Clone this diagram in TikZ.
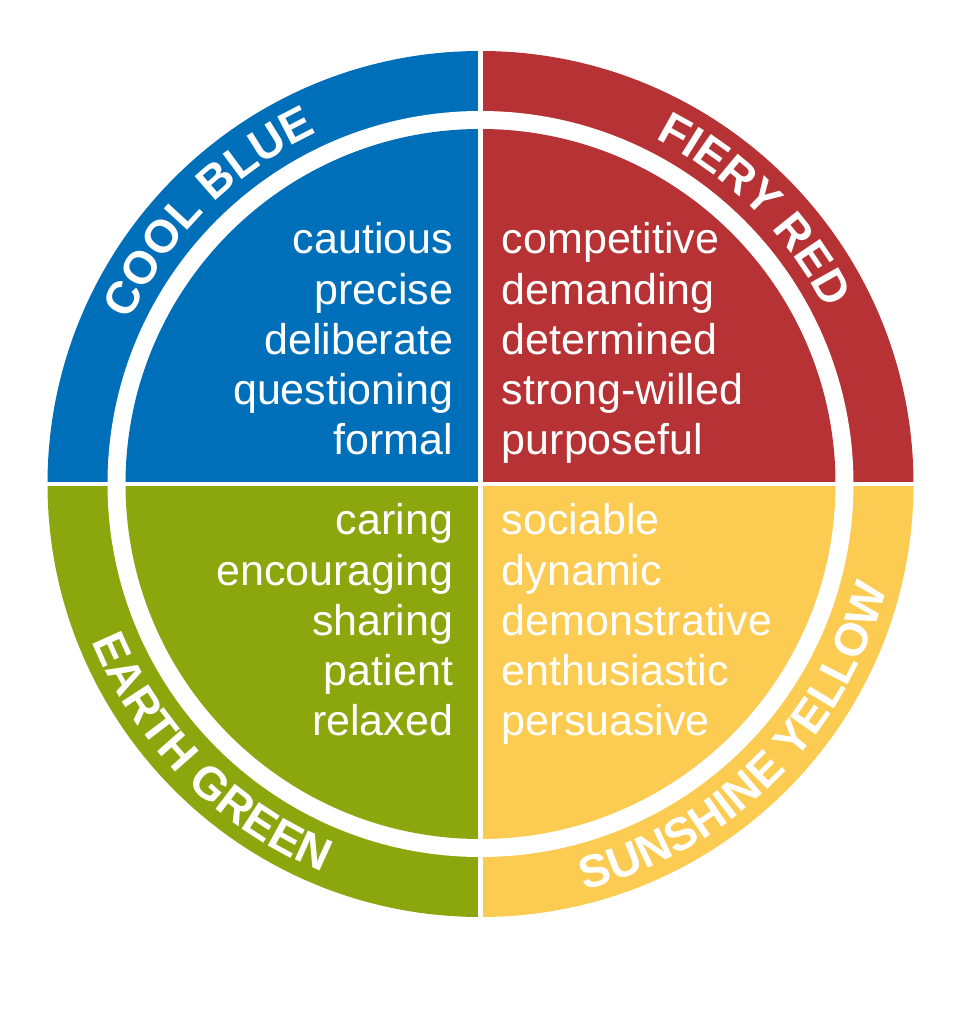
\documentclass[tikz,border=0pt]{standalone}
\usepackage{fontspec}
\setmainfont{Liberation Sans}
\usetikzlibrary{decorations.text}
\definecolor{cblue}{RGB}{0,111,185}
\definecolor{cred}{RGB}{183,50,52}
\definecolor{cgreen}{RGB}{140,166,13}
\definecolor{cyellow}{RGB}{252,203,82}
\newcommand\ringfont{\fontsize{46}{46}\selectfont\bfseries\color{white}}
\tikzset{
  word/.style={text=white, font=\fontsize{43}{50}\selectfont, inner sep=0pt},
  wordL/.style={word, anchor=base east},
  wordR/.style={word, anchor=base west},
  ringtext/.style={decorate, decoration={text along path, text align=center, text={#1}}}
}
\begin{document}
\begin{tikzpicture}[x=1pt,y=1pt]
\useasboundingbox (-480.5,-540) rectangle (482.5,484);
% outer ring quadrants
\fill[cblue]   (0,0) -- (180:433) arc[start angle=180,end angle=90,radius=433] -- cycle;
\fill[cred]    (0,0) -- (90:433) arc[start angle=90,end angle=0,radius=433] -- cycle;
\fill[cyellow] (0,0) -- (0:433) arc[start angle=0,end angle=-90,radius=433] -- cycle;
\fill[cgreen]  (0,0) -- (270:433) arc[start angle=270,end angle=180,radius=433] -- cycle;
\fill[white] (0,0) circle[radius=373];
% inner quadrants
\fill[cblue]   (0,0) -- (180:355) arc[start angle=180,end angle=90,radius=355] -- cycle;
\fill[cred]    (0,0) -- (90:355) arc[start angle=90,end angle=0,radius=355] -- cycle;
\fill[cyellow] (0,0) -- (0:355) arc[start angle=0,end angle=-90,radius=355] -- cycle;
\fill[cgreen]  (0,0) -- (270:355) arc[start angle=270,end angle=180,radius=355] -- cycle;
% white cross
\draw[white, line width=4.5] (-440,0) -- (440,0);
\draw[white, line width=4.5] (0,-440) -- (0,440);
% ring labels
\path[ringtext={|\ringfont|COOL BLUE}] (180:387) arc[start angle=180,end angle=90,radius=387];
\path[ringtext={|\ringfont|FIERY RED}] (90:387) arc[start angle=90,end angle=0,radius=387];
\path[ringtext={|\ringfont|EARTH GREEN}] (180:419) arc[start angle=180,end angle=270,radius=419];
\path[ringtext={|\ringfont|SUNSHINE YELLOW}] (270:419) arc[start angle=270,end angle=360,radius=419];
% words
\node[wordL] (b1) at (-27.2,230) {cautious};
\node[wordL] (b2) at (-27.2,179.8) {precise};
\node[wordL] (b3) at (-27.2,129.6) {deliberate};
\node[wordL] (b4) at (-27.2,79.4) {questioning};
\node[wordL] (b5) at (-27.2,29.2) {formal};
\node[wordR] (r1) at (21.2,230) {competitive};
\node[wordR] (r2) at (21.2,179.8) {demanding};
\node[wordR] (r3) at (21.2,129.6) {determined};
\node[wordR] (r4) at (21.2,79.4) {strong-willed};
\node[wordR] (r5) at (21.2,29.2) {purposeful};
\node[wordL] (g1) at (-27.2,-51) {caring};
\node[wordL] (g2) at (-27.2,-101) {encouraging};
\node[wordL] (g3) at (-27.2,-151) {sharing};
\node[wordL] (g4) at (-27.2,-201) {patient};
\node[wordL] (g5) at (-27.2,-251) {relaxed};
\node[wordR] (y1) at (21.2,-51) {sociable};
\node[wordR] (y2) at (21.2,-101) {dynamic};
\node[wordR] (y3) at (21.2,-151) {demonstrative};
\node[wordR] (y4) at (21.2,-201) {enthusiastic};
\node[wordR] (y5) at (21.2,-251) {persuasive};
\end{tikzpicture}
\end{document}
